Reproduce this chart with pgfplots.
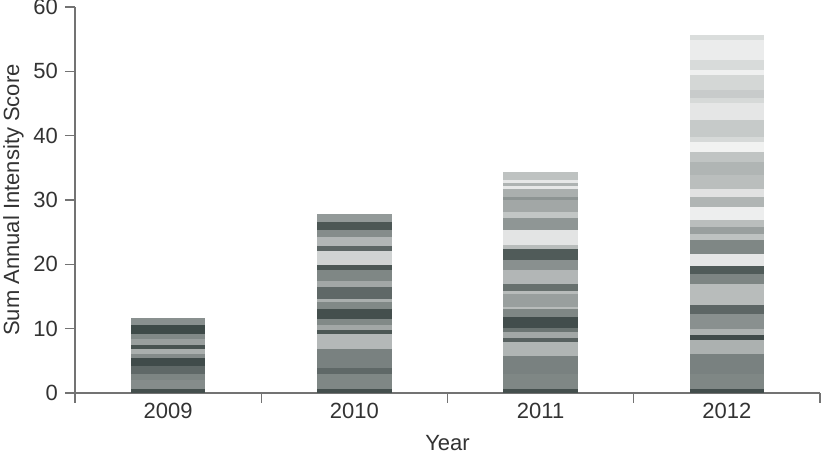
\documentclass[border=0pt]{standalone}
\usepackage{pgfplots}
\pgfplotsset{compat=1.18}
\usepackage{fontspec}
\setmainfont{Liberation Sans}
\definecolor{tint}{RGB}{52,64,62}
\definecolor{axgray}{RGB}{115,115,115}
\definecolor{txt}{RGB}{51,51,51}
% one segment: x position, cumulative top, shade (percent of tint)
\newcommand{\seg}[3]{\addplot[ybar, bar shift=0pt, bar width=0.4, draw=none, fill=tint!#3!white, forget plot] coordinates {(#1,#2)};}
\begin{document}
\begin{tikzpicture}
\begin{axis}[
  scale only axis, width=372.5pt, height=193pt,
  xmin=-0.5, xmax=3.5, ymin=0, ymax=60,
  axis lines*=left,
  axis line style={axgray, line width=0.6pt},
  tick align=outside,
  major tick length=5pt, minor tick length=5pt,
  tick style={axgray, line width=0.6pt},
  xtick={0,1,2,3}, xticklabels={2009,2010,2011,2012},
  major x tick style={draw=none},
  minor xtick={-0.5,0.5,1.5,2.5,3.5},
  minor x tick style={draw=axgray, line width=0.6pt},
  ytick={0,10,20,30,40,50,60},
  /pgf/number format/assume math mode=true,
  tick label style={font=\fontsize{11}{13}\selectfont, text=txt},
  xticklabel style={yshift=3.5pt},
  label style={font=\fontsize{11}{13}\selectfont, text=txt},
  xlabel={Year}, ylabel={Sum Annual Intensity Score},
  xlabel style={yshift=-1.5pt},
  ylabel style={yshift=-2pt},
  clip=false,
]
% 2009
\seg{0}{11.65}{58}
\seg{0}{10.63}{95}
\seg{0}{9.12}{62}
\seg{0}{8.45}{50}
\seg{0}{7.41}{90}
\seg{0}{6.89}{42}
\seg{0}{6.12}{60}
\seg{0}{5.50}{94}
\seg{0}{4.15}{79}
\seg{0}{3.01}{64}
\seg{0}{1.97}{60}
\seg{0}{0.67}{92}
% 2010
\seg{1}{27.85}{53}
\seg{1}{26.59}{88}
\seg{1}{25.40}{60}
\seg{1}{24.26}{38}
\seg{1}{22.86}{80}
\seg{1}{22.14}{23}
\seg{1}{19.96}{88}
\seg{1}{19.08}{63}
\seg{1}{17.42}{46}
\seg{1}{16.49}{79}
\seg{1}{14.67}{42}
\seg{1}{14.15}{62}
\seg{1}{13.01}{92}
\seg{1}{11.56}{62}
\seg{1}{10.63}{46}
\seg{1}{9.75}{88}
\seg{1}{9.12}{37}
\seg{1}{6.89}{66}
\seg{1}{3.89}{79}
\seg{1}{3.01}{63}
\seg{1}{0.67}{92}
% 2011
\seg{2}{34.30}{32}
\seg{2}{33.07}{12}
\seg{2}{32.71}{40}
\seg{2}{32.19}{12}
\seg{2}{31.67}{42}
\seg{2}{30.48}{56}
\seg{2}{29.96}{46}
\seg{2}{28.15}{30}
\seg{2}{27.27}{55}
\seg{2}{25.30}{14}
\seg{2}{22.97}{35}
\seg{2}{22.34}{86}
\seg{2}{20.74}{58}
\seg{2}{19.18}{38}
\seg{2}{17.00}{75}
\seg{2}{15.86}{35}
\seg{2}{15.34}{50}
\seg{2}{13.37}{35}
\seg{2}{13.01}{63}
\seg{2}{11.82}{93}
\seg{2}{10.16}{73}
\seg{2}{9.49}{46}
\seg{2}{8.61}{83}
\seg{2}{7.93}{39}
\seg{2}{5.75}{66}
\seg{2}{3.01}{63}
\seg{2}{0.67}{92}
% 2012
\seg{3}{55.70}{18}
\seg{3}{54.85}{10}
\seg{3}{51.74}{19}
\seg{3}{50.18}{8}
\seg{3}{49.40}{21}
\seg{3}{47.07}{27}
\seg{3}{45.78}{20}
\seg{3}{45.00}{13}
\seg{3}{42.51}{28}
\seg{3}{39.81}{20}
\seg{3}{39.04}{7}
\seg{3}{37.48}{31}
\seg{3}{35.93}{39}
\seg{3}{33.85}{34}
\seg{3}{31.78}{15}
\seg{3}{30.48}{39}
\seg{3}{28.93}{9}
\seg{3}{26.85}{34}
\seg{3}{25.81}{50}
\seg{3}{24.78}{32}
\seg{3}{23.74}{63}
\seg{3}{21.66}{13}
\seg{3}{19.80}{86}
\seg{3}{18.45}{64}
\seg{3}{17.00}{35}
\seg{3}{13.63}{80}
\seg{3}{12.33}{58}
\seg{3}{10.00}{40}
\seg{3}{8.96}{94}
\seg{3}{8.19}{41}
\seg{3}{6.11}{66}
\seg{3}{3.00}{63}
\seg{3}{0.67}{93}
\end{axis}
\pgfresetboundingbox
\path ([xshift=-37.5pt,yshift=3.5pt]current axis.north west) rectangle ([xshift=2.5pt,yshift=-31.5pt]current axis.south east);
\end{tikzpicture}
\end{document}
